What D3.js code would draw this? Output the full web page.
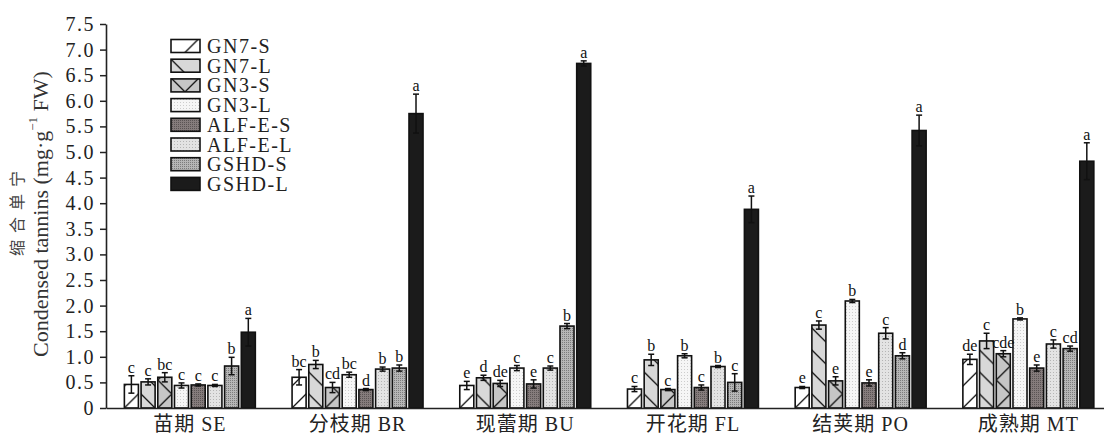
<!DOCTYPE html>
<html>
<head>
<meta charset="utf-8">
<script src="https://cdn.jsdelivr.net/npm/d3@7"></script>
<style>
  body { margin: 0; background: #fff; }
  svg { display: block; }
</style>
</head>
<body>
<svg id="chart" width="1104" height="437"></svg>
<script>
// Growth stages and cultivars
const stages = ["苗期 SE", "分枝期 BR", "现蕾期 BU", "开花期 FL", "结荚期 PO", "成熟期 MT"];
const series = ["GN7-S", "GN7-L", "GN3-S", "GN3-L", "ALF-E-S", "ALF-E-L", "GSHD-S", "GSHD-L"];
const yTicks = [0, 0.5, 1, 1.5, 2, 2.5, 3, 3.5, 4, 4.5, 5, 5.5, 6, 6.5, 7, 7.5];

// Means per stage (order = series)
const meanSE = [0.46, 0.51, 0.60, 0.44, 0.45, 0.44, 0.82, 1.48];
const meanBR = [0.60, 0.85, 0.40, 0.65, 0.36, 0.76, 0.78, 5.75];
const meanBU = [0.44, 0.59, 0.48, 0.78, 0.47, 0.78, 1.60, 6.73];
const meanFL = [0.37, 0.94, 0.36, 1.02, 0.40, 0.81, 0.50, 3.88];
const meanPO = [0.40, 1.62, 0.53, 2.09, 0.49, 1.46, 1.02, 5.42];
const meanMT = [0.95, 1.31, 1.06, 1.74, 0.78, 1.25, 1.16, 4.82];

// Error (SE) per stage
const errSE = [0.17, 0.06, 0.09, 0.05, 0.02, 0.02, 0.17, 0.27];
const errBR = [0.15, 0.08, 0.10, 0.05, 0.02, 0.04, 0.06, 0.38];
const errBU = [0.08, 0.05, 0.06, 0.05, 0.08, 0.04, 0.05, 0.05];
const errFL = [0.05, 0.11, 0.02, 0.04, 0.05, 0.02, 0.17, 0.26];
const errPO = [0.02, 0.08, 0.08, 0.03, 0.06, 0.11, 0.06, 0.30];
const errMT = [0.10, 0.15, 0.06, 0.02, 0.06, 0.08, 0.05, 0.36];

// Significance letters
const sigSE = ["c", "c", "bc", "c", "c", "c", "b", "a"];
const sigBR = ["bc", "b", "cd", "bc", "d", "b", "b", "a"];
const sigBU = ["e", "d", "de", "c", "e", "c", "b", "a"];
const sigFL = ["c", "b", "c", "b", "c", "b", "c", "a"];
const sigPO = ["e", "c", "e", "b", "e", "c", "d", "a"];
const sigMT = ["de", "c", "cde", "b", "e", "c", "cd", "a"];

const means = [meanSE, meanBR, meanBU, meanFL, meanPO, meanMT];
const errs = [errSE, errBR, errBU, errFL, errPO, errMT];
const sigs = [sigSE, sigBR, sigBU, sigFL, sigPO, sigMT];

const rows = [];
stages.forEach((st, i) => {
  series.forEach((s, j) => {
    rows.push({ stage: st, gi: i, series: s, si: j, mean: means[i][j], err: errs[i][j], sig: sigs[i][j] });
  });
});

const svg = d3.select("#chart");
const serif = "'Liberation Serif', 'Times New Roman', serif";
const base = 408;

const x0 = d3.scaleBand().domain(stages).range([106, 106 + 6 * 167.7]);
const x1 = d3.scaleBand().domain(series).range([0, x0.bandwidth()])
  .paddingInner(0.16).paddingOuter(1.1);
const y = d3.scaleLinear().domain([0, 7.5]).range([base, 24]);

// Patterns
const defs = svg.append("defs");

function hatch(id, kind, px, py, P, fill) {
  const p = defs.append("pattern")
    .attr("id", id)
    .attr("patternUnits", "userSpaceOnUse")
    .attr("x", px).attr("y", py)
    .attr("width", P).attr("height", P);
  p.append("rect").attr("width", P).attr("height", P).attr("fill", fill);
  const fwd = `M-2,2 L2,-2 M0,${P} L${P},0 M${P - 2},${P + 2} L${P + 2},${P - 2}`;
  const back = `M-2,${P - 2} L2,${P + 2} M0,0 L${P},${P} M${P - 2},-2 L${P + 2},2`;
  const d = kind === "/" ? fwd : kind === "\\" ? back : fwd + " " + back;
  p.append("path").attr("d", d)
    .attr("stroke", "#111").attr("stroke-width", 1.3).attr("fill", "none");
}

function texture(id, bg, dot, size) {
  const p = defs.append("pattern")
    .attr("id", id)
    .attr("patternUnits", "userSpaceOnUse")
    .attr("width", size).attr("height", size);
  p.append("rect").attr("width", size).attr("height", size).attr("fill", bg);
  p.append("rect").attr("width", 1).attr("height", 1).attr("fill", dot);
}

texture("tx-gn3l", "#f6f6f6", "#cdcdcd", 3);
texture("tx-alfes", "#857c7c", "#5a5454", 2);
texture("tx-alfel", "#e3e3e3", "#b5b5b5", 3);
texture("tx-gshds", "#b6b6b6", "#7c7c7c", 2);

const plainFill = {
  "GN3-L": "url(#tx-gn3l)",
  "ALF-E-S": "url(#tx-alfes)",
  "ALF-E-L": "url(#tx-alfel)",
  "GSHD-S": "url(#tx-gshds)",
  "GSHD-L": "#1b1b1b"
};

function barFill(d) {
  const bx = x0(d.stage) + x1(d.series);
  const id = `h-${d.gi}-${d.si}`;
  if (d.series === "GN7-S") { hatch(id, "/", bx, base, 22, "#ffffff"); return `url(#${id})`; }
  if (d.series === "GN7-L") { hatch(id, "\\", bx, base - 14, 22, "#d8d8d8"); return `url(#${id})`; }
  if (d.series === "GN3-S") { hatch(id, "x", bx, base, 28, "#c6c6c6"); return `url(#${id})`; }
  return plainFill[d.series];
}

// Axes
const yAxis = svg.append("g")
  .attr("transform", "translate(106,0)")
  .call(d3.axisLeft(y).tickValues(yTicks).tickSize(6).tickSizeOuter(0).tickPadding(5)
    .tickFormat(d => d === 0 ? "0" : d.toFixed(1)));
yAxis.attr("font-family", serif).attr("font-size", 20);
yAxis.selectAll("text").attr("fill", "#222").style("letter-spacing", "1.5px");
yAxis.selectAll("line").attr("stroke", "#222").attr("stroke-width", 1.5);
yAxis.select(".domain").attr("stroke", "#222").attr("stroke-width", 1.6);

// Bars
const bars = svg.append("g");
bars.selectAll("rect")
  .data(rows)
  .join("rect")
  .attr("x", d => x0(d.stage) + x1(d.series))
  .attr("y", d => y(d.mean))
  .attr("width", x1.bandwidth())
  .attr("height", d => base - y(d.mean))
  .attr("fill", d => barFill(d))
  .attr("stroke", "#111")
  .attr("stroke-width", 1.6);

// Error bars
const eb = svg.append("g").attr("stroke", "#111").attr("stroke-width", 1.5);
rows.forEach(d => {
  const cx = x0(d.stage) + x1(d.series) + x1.bandwidth() / 2;
  const top = y(d.mean + d.err), bot = y(d.mean - d.err);
  eb.append("line").attr("x1", cx).attr("x2", cx).attr("y1", top).attr("y2", bot);
  eb.append("line").attr("x1", cx - 3).attr("x2", cx + 3).attr("y1", top).attr("y2", top);
  eb.append("line").attr("x1", cx - 3).attr("x2", cx + 3).attr("y1", bot).attr("y2", bot);
});

// Significance letters
svg.append("g")
  .selectAll("text")
  .data(rows)
  .join("text")
  .attr("x", d => x0(d.stage) + x1(d.series) + x1.bandwidth() / 2)
  .attr("y", d => y(d.mean + d.err) - 3)
  .attr("text-anchor", "middle")
  .attr("font-family", serif)
  .attr("font-size", 16)
  .attr("fill", "#111")
  .text(d => d.sig);

// X axis (line + stage labels)
const xAxis = svg.append("g")
  .attr("transform", `translate(0,${base})`)
  .call(d3.axisBottom(x0).tickSize(0).tickSizeOuter(0).tickPadding(9));
xAxis.attr("font-family", `'Liberation Serif', 'Noto Sans CJK SC', serif`).attr("font-size", 20);
xAxis.selectAll("text").attr("fill", "#222").style("letter-spacing", "1px");
xAxis.select(".domain").attr("stroke", "#222").attr("stroke-width", 1.6);

// Y axis title
svg.append("text")
  .attr("transform", "translate(16,210) rotate(-90)")
  .attr("text-anchor", "middle")
  .attr("dominant-baseline", "central")
  .attr("font-family", "'Noto Sans CJK SC', sans-serif")
  .attr("font-size", 16)
  .attr("fill", "#444")
  .style("letter-spacing", "7px")
  .text("缩合单宁");

const yt = svg.append("text")
  .attr("transform", "translate(40,214) rotate(-90)")
  .attr("text-anchor", "middle")
  .attr("dominant-baseline", "central")
  .attr("font-family", serif)
  .attr("font-size", 22)
  .attr("fill", "#333");
yt.append("tspan").text("Condensed tannins (mg·g");
yt.append("tspan").attr("font-size", 13).attr("dy", -8).text("−1");
yt.append("tspan").attr("dy", 8).text(" FW)");

// Legend
const legend = svg.append("g");
series.forEach((s, i) => {
  const cy = 46 + i * 19.7;
  const bx = 171, by = cy - 6.5;
  let fill = plainFill[s];
  const id = `lg-${i}`;
  if (s === "GN7-S") { hatch(id, "/", bx + 14, by + 13, 28, "#ffffff"); fill = `url(#${id})`; }
  if (s === "GN7-L") { hatch(id, "\\", bx, by, 28, "#d8d8d8"); fill = `url(#${id})`; }
  if (s === "GN3-S") { hatch(id, "x", bx + 14, by + 13, 28, "#c6c6c6"); fill = `url(#${id})`; }
  legend.append("rect")
    .attr("x", bx).attr("y", by)
    .attr("width", 29).attr("height", 13)
    .attr("fill", fill)
    .attr("stroke", "#111").attr("stroke-width", 1.6);
  legend.append("text")
    .attr("x", 207).attr("y", cy + 7)
    .attr("font-family", serif)
    .attr("font-size", 20)
    .attr("fill", "#222")
    .style("letter-spacing", "1.5px")
    .text(s);
});
</script>
</body>
</html>
